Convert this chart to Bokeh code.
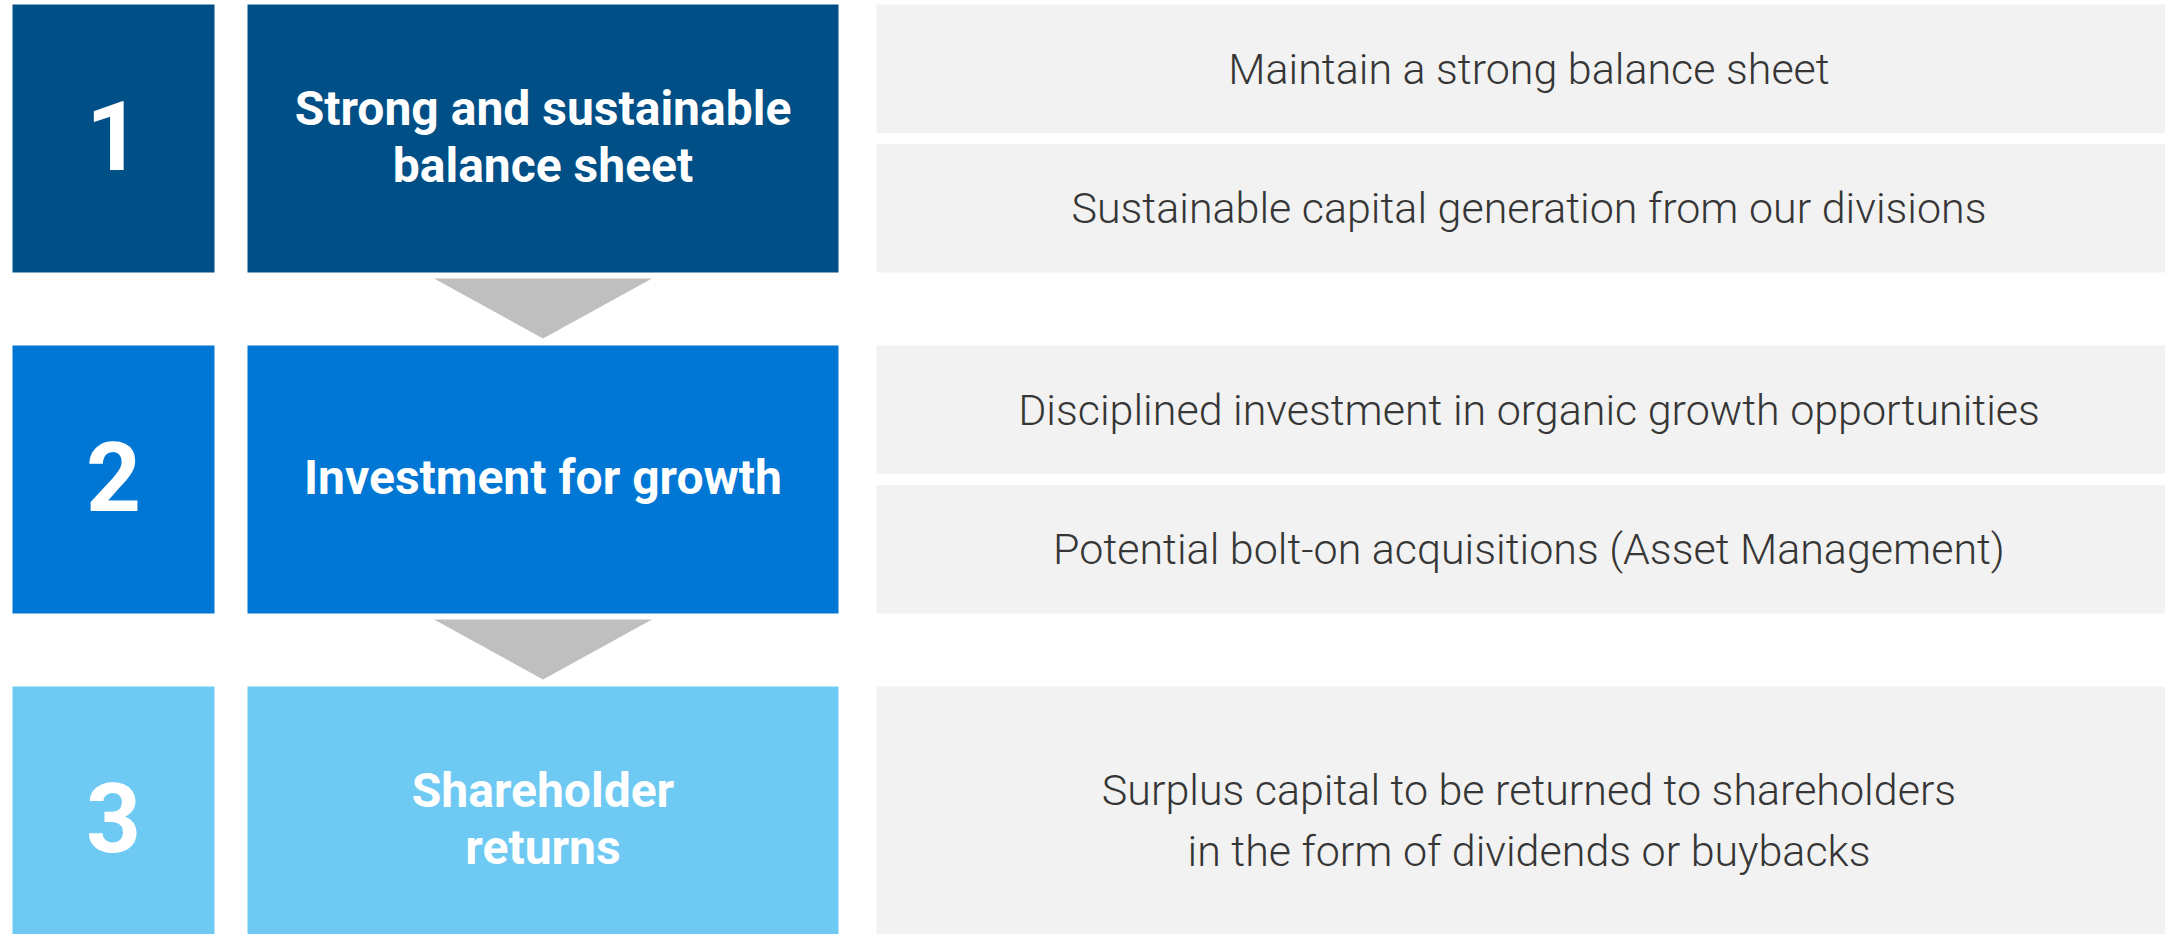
from bokeh.plotting import figure
from bokeh.models import Range1d
from bokeh.core.properties import value
from bokeh.embed import file_html
from bokeh.resources import INLINE

# ---- content ----
step_numbers = ["1", "2", "3"]
step_titles = ["Strong and sustainable\nbalance sheet", "Investment for growth", "Shareholder\nreturns"]
step_points = [
    ["Maintain a strong balance sheet", "Sustainable capital generation from our divisions"],
    ["Disciplined investment in organic growth opportunities", "Potential bolt-on acquisitions (Asset Management)"],
    ["Surplus capital to be returned to shareholders\nin the form of dividends or buybacks"],
]

# ---- styles / layout (reference pixel space) ----
colors = ["#004F87", "#0077D5", "#6FCAF3"]
grey_box = "#F2F2F2"
arrow_col = "#BFBFBF"
row_top = [4, 345, 686]
row_h = 268
num_x = (12, 214)
title_x = (247, 838)
pts_x = (876, 2181)
sub_gap = 11

W, H = 2165, 934
p = figure(width=W, height=H, output_backend="svg", toolbar_location=None,
           x_range=Range1d(0, W), y_range=Range1d(H, 0),
           min_border=0, outline_line_color=None, background_fill_color="white")
p.axis.visible = False
p.grid.visible = False

for i, (num, title, pts) in enumerate(zip(step_numbers, step_titles, step_points)):
    t = row_top[i]
    b = t + row_h
    p.quad(left=num_x[0], right=num_x[1], top=t, bottom=b, fill_color=colors[i], line_color=None)
    p.quad(left=title_x[0], right=title_x[1], top=t, bottom=b, fill_color=colors[i], line_color=None)
    p.text(x=[(num_x[0] + num_x[1]) / 2], y=[(t + b) / 2 - 3], text=[num],
           text_font=value("Roboto"), text_font_style="bold", text_font_size="96px",
           text_color="white", text_align="center", text_baseline="middle")
    p.text(x=[(title_x[0] + title_x[1]) / 2], y=[(t + b) / 2 - 2], text=[title],
           text_font=value("Roboto"), text_font_style="bold", text_font_size="48px",
           text_color="white", text_align="center", text_baseline="middle",
           text_line_height=1.0)
    n = len(pts)
    sub_h = (row_h - sub_gap * (n - 1)) / n
    for j, pt in enumerate(pts):
        st = t + j * (sub_h + sub_gap)
        sb = st + sub_h
        p.quad(left=pts_x[0], right=pts_x[1], top=st, bottom=sb, fill_color=grey_box, line_color=None)
        p.text(x=[(pts_x[0] + pts_x[1]) / 2], y=[(st + sb) / 2], text=[pt],
               text_font=value("Roboto Light"), text_font_size="43px",
               text_color="#363636", text_align="center", text_baseline="middle",
               text_line_height=1.23)
    if i < len(step_numbers) - 1:
        cx = (title_x[0] + title_x[1]) / 2
        top_a = b + 6
        tip = row_top[i + 1] - 7
        p.patch(x=[cx - 109, cx + 109, cx], y=[top_a, top_a, tip], fill_color=arrow_col, line_color=None)

open("out.html", "w").write(file_html(p, INLINE))
